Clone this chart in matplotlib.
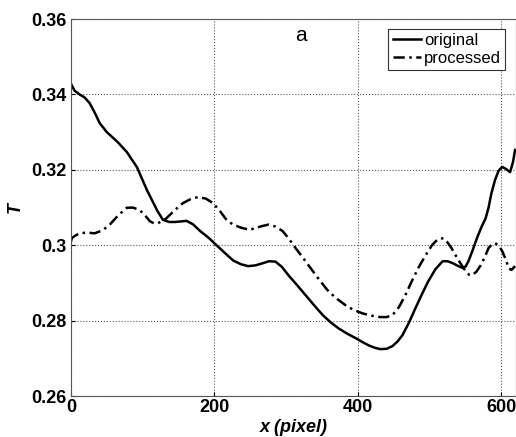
import matplotlib
matplotlib.use('Agg')
import matplotlib.pyplot as plt

# values
x_orig = [0, 5, 12, 19, 26, 33, 40, 50, 65, 78, 92, 106, 120, 128, 137, 145, 161,
          170, 180, 192, 203, 215, 226, 237, 247, 257, 266, 276, 285, 294, 303,
          315, 327, 339, 351, 362, 373, 385, 397, 406, 415, 423, 431, 440, 448,
          455, 462, 471, 480, 489, 498, 508, 518, 525, 532, 539, 546, 550, 554,
          560, 566, 572, 578, 582, 586, 591, 596, 601, 606, 612, 616, 619]
T_orig = [0.3428, 0.3410, 0.3400, 0.3392, 0.3377, 0.3352, 0.3324, 0.3300, 0.3274,
          0.3247, 0.3207, 0.3146, 0.3093, 0.3068, 0.3062, 0.3062, 0.3065,
          0.3056, 0.3038, 0.3020, 0.3000, 0.2979, 0.2960, 0.2950, 0.2945,
          0.2947, 0.2952, 0.2958, 0.2957, 0.2943, 0.2921, 0.2895, 0.2868,
          0.2841, 0.2815, 0.2796, 0.2780, 0.2766, 0.2754, 0.2744, 0.2735,
          0.2729, 0.2725, 0.2726, 0.2733, 0.2745, 0.2762, 0.2795, 0.2833,
          0.2870, 0.2905, 0.2937, 0.2958, 0.2958, 0.2953, 0.2946, 0.2940,
          0.2944, 0.2958, 0.2988, 0.3020, 0.3048, 0.3072, 0.3100, 0.3138,
          0.3173, 0.3198, 0.3208, 0.3203, 0.3194, 0.3220, 0.3253]

x_proc = [0, 1, 6, 12, 22, 33, 44, 54, 66, 78, 87, 96, 103, 110, 116, 121, 127,
          133, 145, 156, 167, 177, 188, 198, 208, 217, 226, 237, 249, 257, 266,
          275, 285, 295, 304, 313, 325, 337, 348, 359, 371, 383, 394, 406, 418,
          431, 440, 448, 457, 466, 475, 484, 494, 503, 509, 515, 520, 524, 530,
          536, 543, 550, 555, 559, 565, 571, 577, 582, 587, 591, 596, 601, 606,
          610, 614, 619]
T_proc = [0.3010, 0.3019, 0.3026, 0.3032, 0.3034, 0.3032, 0.3040, 0.3055, 0.3080,
          0.3100, 0.3100, 0.3093, 0.3080, 0.3064, 0.3058, 0.3059, 0.3064,
          0.3072, 0.3094, 0.3112, 0.3123, 0.3128, 0.3124, 0.3112, 0.3090,
          0.3067, 0.3055, 0.3047, 0.3041, 0.3046, 0.3051, 0.3055, 0.3050,
          0.3038, 0.3017, 0.2993, 0.2963, 0.2932, 0.2904, 0.2878, 0.2858,
          0.2841, 0.2829, 0.2820, 0.2814, 0.2810, 0.2810, 0.2815, 0.2836,
          0.2868, 0.2905, 0.2940, 0.2973, 0.3000, 0.3012, 0.3019, 0.3018,
          0.3010, 0.2994, 0.2974, 0.2952, 0.2932, 0.2922, 0.2921, 0.2930,
          0.2947, 0.2970, 0.2993, 0.3003, 0.3006, 0.3000, 0.2985, 0.2963,
          0.2940, 0.2935, 0.2945]

xticks = [0, 200, 400, 600]
yticks = [0.26, 0.28, 0.3, 0.32, 0.34, 0.36]
ytick_labels = ['0.26', '0.28', '0.3', '0.32', '0.34', '0.36']

plt.rcParams['font.family'] = ['Liberation Sans', 'DejaVu Sans']

fig = plt.figure(figsize=(5.16, 4.37), dpi=100)
ax = fig.add_axes([0.1376, 0.0931, 0.862, 0.8634])

ax.plot(x_orig, T_orig, color='black', lw=1.8, ls='-', label='original')
ax.plot(x_proc, T_proc, color='black', lw=1.8, ls=(0, (4.5, 1.8, 1, 1.8)), label='processed')

ax.set_xlim(0, 620)
ax.set_ylim(0.26, 0.36)
ax.set_xticks(xticks)
ax.set_yticks(yticks)
ax.set_yticklabels(ytick_labels)
for lab in ax.get_xticklabels() + ax.get_yticklabels():
    lab.set_fontweight('bold')
    lab.set_fontsize(13)
ax.tick_params(direction='in', length=3)
ax.tick_params(axis='x', pad=2)
ax.tick_params(axis='y', pad=3)
ax.grid(True, ls=':', color='#555555', lw=0.8)
for s in ax.spines.values():
    s.set_color('#555555')
    s.set_linewidth(0.8)

ax.set_xlabel('x (pixel)', fontsize=13, fontweight='bold', fontstyle='italic', labelpad=2)
ax.set_ylabel('T', fontsize=13, fontweight='bold', fontstyle='italic', labelpad=6)

ax.text(320, 0.3555, 'a', fontsize=15, ha='center', va='center')

leg = ax.legend(loc='upper right', bbox_to_anchor=(0.984, 0.982), fontsize=12,
                fancybox=False, framealpha=1, edgecolor='#333333',
                handlelength=1.7, handletextpad=0.2, borderpad=0.25,
                labelspacing=0.15, borderaxespad=0.2)
leg.get_frame().set_linewidth(0.8)

fig.savefig('out.png', dpi=100)
